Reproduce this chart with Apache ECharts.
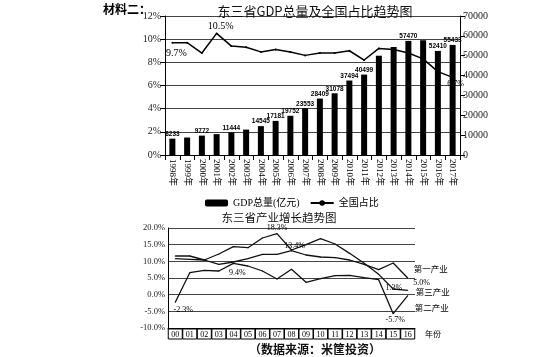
<!DOCTYPE html>
<html><head><meta charset="utf-8">
<script src="https://cdn.jsdelivr.net/npm/echarts@6/dist/echarts.min.js"></script>
<style>html,body{margin:0;padding:0;background:#fff}#c{width:553px;height:357px}</style>
</head><body><div id="c"></div>
<script>
// ---- Top chart data ----
const years = ['1998年','1999年','2000年','2001年','2002年','2003年','2004年','2005年','2006年','2007年','2008年','2009年','2010年','2011年','2012年','2013年','2014年','2015年','2016年','2017年'];
const gdp = [8233, 8800, 9772, 10500, 11444, 12800, 14545, 17181, 19752, 23553, 28409, 31078, 37494, 40499, 50000, 54400, 57470, 57800, 52410, 55433];
const gdpLabels = ['8233','','9772','','11444','','14545','17181','19752','23553','28409','31078','37494','40499','','','57470','','52410','55433'];
const share = [9.7, 9.7, 8.8, 10.5, 9.4, 9.3, 8.9, 9.1, 8.9, 8.6, 8.8, 8.8, 9.0, 8.2, 9.2, 9.1, 8.8, 8.3, 7.2, 6.7];
const shareLabels = ['9.7%','','','10.5%','','','','','','','','','','','','','','','','6.7%'];
const leftTicks = [0, 2, 4, 6, 8, 10, 12];
const rightTicks = [0, 10000, 20000, 30000, 40000, 50000, 60000, 70000];

// ---- Bottom chart data ----
const yrs2 = ['00','01','02','03','04','05','06','07','08','09','10','11','12','13','14','15','16'];
const primary = [11.6, 11.6, 10.4, 9.1, 9.8, 10.8, 12.1, 12.1, 13.2, 11.9, 11.3, 11.1, 10.4, 9.1, 7.5, 9.5, 5.0];
const secondary = [-2.3, 6.6, 7.3, 7.1, 9.4, 8.6, 7.1, 4.7, 7.6, 3.7, 4.8, 5.7, 5.8, 5.1, 4.5, -5.7, -0.3];
const tertiary = [10.8, 10.6, 10.4, 12.2, 14.4, 14.1, 17.0, 18.3, 13.4, 15.0, 16.8, 15.2, 12.4, 9.4, 6.1, 1.7, 1.3];
const primaryLabels = ['','','','','','','','','','','','','','','','','5.0%'];
const secondaryLabels = ['-2.3%','','','','9.4%','','','','','','','','','','','-5.7%',''];
const tertiaryLabels = ['','','','','','','','18.3%','13.4%','','','','','','','','1.3%'];

const SERIF = '"Liberation Serif","Noto Sans CJK SC",serif';
const CJK = '"Noto Sans CJK SC","Liberation Serif",serif';

function withLabels(vals, labels, opts) {
  return vals.map((v, i) => {
    if (!labels[i]) return v;
    const o = opts[i] || {};
    return { value: v, label: Object.assign({ show: true, formatter: labels[i], color: '#000', fontFamily: SERIF, fontSize: 8 }, o) };
  });
}

const chart = echarts.init(document.getElementById('c'), null, { renderer: 'canvas' });
chart.setOption({
  backgroundColor: '#fff',
  animation: false,
  title: [
    { text: '材料二：', left: 98, top: -2, textStyle: { fontFamily: CJK, fontSize: 12, fontWeight: 'bold', color: '#000' } },
    { text: '东三省GDP总量及全国占比趋势图', left: 310, textAlign: 'center', top: 0, textStyle: { fontFamily: CJK, fontSize: 13, fontWeight: 'normal', color: '#111' } },
    { text: '东三省产业增长趋势图', left: 274, textAlign: 'center', top: 207, textStyle: { fontFamily: CJK, fontSize: 11.5, fontWeight: 'normal', color: '#111' } },
    { text: '（数据来源：米筐投资）', left: 310, textAlign: 'center', top: 338, textStyle: { fontFamily: CJK, fontSize: 12, fontWeight: 'bold', color: '#111' } }
  ],
  legend: {
    data: ['GDP总量(亿元)', '全国占比'],
    top: 193, left: 200,
    itemWidth: 23, itemHeight: 7, itemGap: 10,
    textStyle: { fontFamily: SERIF, fontSize: 10, color: '#000' }
  },
  grid: [
    { left: 165, right: 93, top: 16, height: 139 },
    { left: 168, right: 138, top: 228, height: 100 }
  ],
  xAxis: [
    {
      type: 'category', gridIndex: 0, data: years,
      axisLine: { lineStyle: { color: '#000', width: 1 } },
      axisTick: { show: true, lineStyle: { color: '#000' } },
      axisLabel: { rotate: -90, interval: 0, fontFamily: SERIF, fontSize: 9, color: '#000', margin: 4 }
    },
    {
      type: 'category', gridIndex: 1, data: yrs2, position: 'bottom',
      axisLine: { onZero: false, lineStyle: { color: '#000', width: 1 } },
      axisTick: { show: false },
      axisLabel: { interval: 0, fontFamily: SERIF, fontSize: 8, color: '#000', margin: 1,
        borderColor: '#000', borderWidth: 1, width: 12, height: 9, lineHeight: 9, align: 'center', padding: [1, 1, 0, 1] },
      name: '年份', nameLocation: 'end', nameGap: 10,
      nameTextStyle: { fontFamily: CJK, fontSize: 8, color: '#000', verticalAlign: 'top', padding: [2, 0, 0, 0] }
    }
  ],
  yAxis: [
    {
      type: 'value', gridIndex: 0, min: leftTicks[0], max: leftTicks[leftTicks.length - 1], interval: 2,
      axisLine: { show: true, lineStyle: { color: '#000' } },
      axisTick: { show: true, lineStyle: { color: '#000' } },
      axisLabel: { formatter: '{value}%', fontFamily: SERIF, fontSize: 10, color: '#222', margin: 4 },
      splitLine: { show: true, lineStyle: { color: '#444', width: 1 } }
    },
    {
      type: 'value', gridIndex: 0, position: 'right', min: rightTicks[0], max: rightTicks[rightTicks.length - 1], interval: 10000,
      axisLine: { show: true, lineStyle: { color: '#000' } },
      axisTick: { show: true, lineStyle: { color: '#000' } },
      axisLabel: { formatter: v => String(v), fontFamily: SERIF, fontSize: 10, color: '#222', margin: 3 },
      splitLine: { show: false }
    },
    {
      type: 'value', gridIndex: 1, min: -10, max: 20, interval: 5,
      axisLine: { show: true, lineStyle: { color: '#000' } },
      axisTick: { show: false },
      axisLabel: { formatter: v => v.toFixed(1) + '%', fontFamily: SERIF, fontSize: 8.5, color: '#222', margin: 3 },
      splitLine: { show: true, lineStyle: { color: '#444', width: 1 } }
    }
  ],
  series: [
    {
      name: 'GDP总量(亿元)', type: 'bar', xAxisIndex: 0, yAxisIndex: 1, barWidth: 6,
      itemStyle: { color: '#000' },
      data: gdp.map((v, i) => gdpLabels[i] ? { value: v, label: { show: true, formatter: gdpLabels[i] } } : v),
      label: { show: false, position: 'top', distance: 1, fontFamily: '"Liberation Sans",sans-serif', fontSize: 6.5, fontWeight: 'bold', color: '#000' },
      z: 2
    },
    {
      name: '全国占比', type: 'line', xAxisIndex: 0, yAxisIndex: 0,
      symbol: 'circle', symbolSize: 2, showSymbol: true,
      lineStyle: { color: '#000', width: 1.5 }, itemStyle: { color: '#000' },
      data: withLabels(share, shareLabels, {
        0: { position: 'bottom', offset: [4, 0], fontSize: 10 },
        3: { position: 'top', offset: [4, 4], fontSize: 10 },
        19: { position: 'bottom', offset: [3, -3], fontSize: 8 }
      }),
      z: 3
    },
    {
      name: '第一产业', type: 'line', xAxisIndex: 1, yAxisIndex: 2, symbol: 'circle', symbolSize: 1, showSymbol: true,
      lineStyle: { color: '#111', width: 1.3 }, itemStyle: { color: '#111' },
      data: withLabels(primary, primaryLabels, { 16: { position: 'right', offset: [0, 5] } }),
      endLabel: { show: true, formatter: '{a}', fontFamily: CJK, fontSize: 8.5, color: '#000', offset: [-2, -9] }
    },
    {
      name: '第二产业', type: 'line', xAxisIndex: 1, yAxisIndex: 2, symbol: 'circle', symbolSize: 1, showSymbol: true,
      lineStyle: { color: '#111', width: 1.3 }, itemStyle: { color: '#111' },
      data: withLabels(secondary, secondaryLabels, {
        0: { position: 'bottom', offset: [8, -2] },
        4: { position: 'bottom', offset: [4, 0] },
        15: { position: 'bottom', offset: [2, -3] }
      }),
      endLabel: { show: true, formatter: '{a}', fontFamily: CJK, fontSize: 8.5, color: '#000', offset: [-1, 12] }
    },
    {
      name: '第三产业', type: 'line', xAxisIndex: 1, yAxisIndex: 2, symbol: 'circle', symbolSize: 1, showSymbol: true,
      lineStyle: { color: '#111', width: 1.3 }, itemStyle: { color: '#111' },
      data: withLabels(tertiary, tertiaryLabels, {
        7: { position: 'top', offset: [0, 4] },
        8: { position: 'top', offset: [3, 5] },
        16: { position: 'left', offset: [0, -2] }
      }),
      endLabel: { show: true, formatter: '{a}', fontFamily: CJK, fontSize: 8.5, color: '#000', offset: [0, 1] }
    }
  ]
});
</script>
</body></html>
